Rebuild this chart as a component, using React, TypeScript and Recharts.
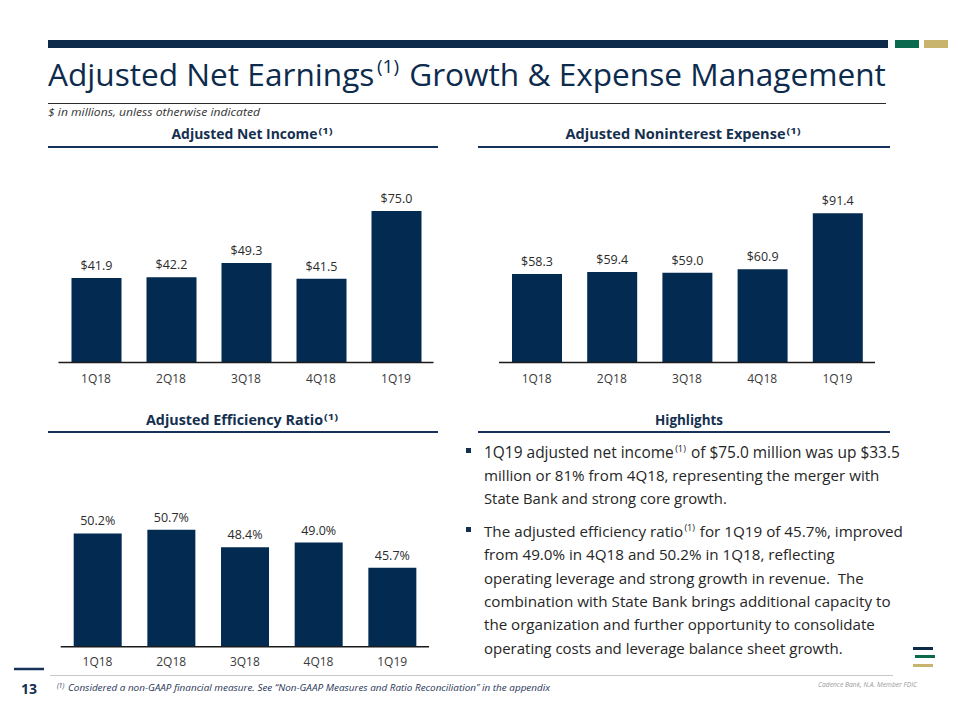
import React, { useLayoutEffect, useRef, useState } from 'react';
import { BarChart, Bar, XAxis, YAxis, LabelList } from 'recharts';

const categories = ['1Q18', '2Q18', '3Q18', '4Q18', '1Q19'];
const netIncome = [41.9, 42.2, 49.3, 41.5, 75.0];
const nonintExpense = [58.3, 59.4, 59.0, 60.9, 91.4];
const efficiencyRatio = [50.2, 50.7, 48.4, 49.0, 45.7];

const BAR = '#032b52';
const GREEN = '#0b6a4e';
const GOLD = '#c9b46e';
const FONT = "'Open Sans', 'Noto Sans', sans-serif";

const build = (vals: number[]) => categories.map((q, i) => ({ q, v: vals[i] }));

type ChartProps = {
  vals: number[];
  left: number;
  top: number;
  width: number;
  height: number;
  margin: { top: number; right: number; bottom: number; left: number };
  domain: [number, number];
  barSize: number;
  fmt: (v: number) => string;
  tickMargin: number;
};

function QChart(p: ChartProps) {
  return (
    <div style={{ position: 'absolute', left: p.left, top: p.top, width: p.width, height: p.height }}>
      <BarChart width={p.width} height={p.height} data={build(p.vals)} margin={p.margin}>
        <XAxis
          dataKey="q"
          height={30}
          axisLine={{ stroke: '#1b1b1b', strokeWidth: 1.5 }}
          tickLine={false}
          tickSize={6}
          tickMargin={p.tickMargin}
          tick={{ fill: '#3a3a3a', fontSize: 12, fontFamily: FONT }}
          interval={0}
        />
        <YAxis hide type="number" domain={p.domain} allowDataOverflow />
        <Bar dataKey="v" fill={BAR} barSize={p.barSize} isAnimationActive={false}>
          <LabelList
            dataKey="v"
            position="top"
            offset={8}
            formatter={(v: any) => p.fmt(Number(v))}
            style={{ fill: '#2b2b2b', fontSize: 12.5, fontFamily: FONT }}
          />
        </Bar>
      </BarChart>
    </div>
  );
}

type Seg = { t: string; sup?: boolean };

// Lays out a line of text segments (with superscripts) so its natural width fills `target`.
function FitLine({ x, y, segs, fontSize, target, fill }: { x: number; y: number; segs: Seg[]; fontSize: number; target: number; fill: string }) {
  const refs = useRef<(SVGTextElement | null)[]>([]);
  const [lay, setLay] = useState<{ fs: number; xs: number[] } | null>(null);
  const supR = 0.6;
  const gapAfter = (i: number) => {
    if (i === segs.length - 1) return 0;
    if (segs[i + 1].sup) return 0.08;
    if (segs[i].sup) return 0.32;
    return 0.26;
  };
  useLayoutEffect(() => {
    const ws = refs.current.map((r) => (r ? r.getComputedTextLength() : 0));
    let total = 0;
    ws.forEach((w, i) => {
      total += w + gapAfter(i) * fontSize;
    });
    const s = total > 0 ? target / total : 1;
    const xs: number[] = [];
    let cx = x;
    ws.forEach((w, i) => {
      xs.push(cx);
      cx += (w + gapAfter(i) * fontSize) * s;
    });
    setLay({ fs: fontSize * s, xs });
  }, []);
  const fs = lay ? lay.fs : fontSize;
  return (
    <g>
      {segs.map((sg, i) => (
        <text
          key={i}
          ref={(el) => {
            refs.current[i] = el;
          }}
          x={lay ? lay.xs[i] : x}
          y={sg.sup ? y - fs * 0.42 : y}
          fontSize={sg.sup ? fs * supR : fs}
          fill={fill}
          fontFamily={FONT}
          style={{ visibility: lay ? 'visible' : 'hidden' }}
        >
          {sg.t}
        </text>
      ))}
    </g>
  );
}

type Line = { segs: Seg[]; y: number; w: number };

const lines: Line[] = [
  { y: 458, w: 416, segs: [{ t: '1Q19 adjusted net income' }, { t: '(1)', sup: true }, { t: 'of $75.0 million was up $33.5' }] },
  { y: 481, w: 396, segs: [{ t: 'million or 81% from 4Q18, representing the merger with' }] },
  { y: 504, w: 243, segs: [{ t: 'State Bank and strong core growth.' }] },
  { y: 537, w: 419, segs: [{ t: 'The adjusted efficiency ratio' }, { t: '(1)', sup: true }, { t: 'for 1Q19 of 45.7%, improved' }] },
  { y: 560, w: 351, segs: [{ t: 'from 49.0% in 4Q18 and 50.2% in 1Q18, reflecting' }] },
  { y: 583.5, w: 380, segs: [{ t: 'operating leverage and strong growth in revenue.\u00A0\u00A0The' }] },
  { y: 607, w: 407, segs: [{ t: 'combination with State Bank brings additional capacity to' }] },
  { y: 630, w: 391, segs: [{ t: 'the organization and further opportunity to consolidate' }] },
  { y: 653.5, w: 359, segs: [{ t: 'operating costs and leverage balance sheet growth.' }] },
];

function Header({ cx, y, w, lineX1, lineX2, lineY, label }: { cx: number; y: number; w: number; lineX1: number; lineX2: number; lineY: number; label: string }) {
  const x0 = cx - w / 2;
  const mainW = w - 15;
  return (
    <g>
      <text x={x0} y={y} fontSize={14} fontWeight={700} fill="#15304f" fontFamily={FONT} textLength={mainW} lengthAdjust="spacingAndGlyphs">
        {label}
      </text>
      <text x={x0 + mainW + 1} y={y - 5.5} fontSize={9.5} fontWeight={700} fill="#15304f" fontFamily={FONT} textLength={14} lengthAdjust="spacingAndGlyphs">
        (1)
      </text>
      <line x1={lineX1} x2={lineX2} y1={lineY} y2={lineY} stroke="#17325a" strokeWidth={2} />
    </g>
  );
}

export default function App() {
  return (
    <div style={{ position: 'absolute', left: 0, top: 0, width: 960, height: 720, background: '#ffffff', overflow: 'hidden' }}>
      <svg width={960} height={720} style={{ position: 'absolute', left: 0, top: 0 }}>
        {/* top band */}
        <rect x={48} y={40} width={840} height={8} fill="#0d2a4a" />
        <rect x={895} y={40} width={24} height={8} fill={GREEN} />
        <rect x={924} y={40} width={24} height={8} fill={GOLD} />
        {/* title */}
        <FitLine
          x={48}
          y={86}
          fontSize={33}
          target={838}
          fill="#0d2b4d"
          segs={[{ t: 'Adjusted Net Earnings' }, { t: '(1)', sup: true }, { t: 'Growth & Expense Management' }]}
        />
        <line x1={48} x2={886} y1={103.5} y2={103.5} stroke="#2a2a2a" strokeWidth={1} />
        <text x={48} y={116} fontSize={11} fontStyle="italic" fill="#333" fontFamily={FONT} textLength={212} lengthAdjust="spacingAndGlyphs">
          $ in millions, unless otherwise indicated
        </text>

        <Header cx={252} y={139} w={161} lineX1={48} lineX2={438} lineY={147} label="Adjusted Net Income" />
        <Header cx={683} y={139} w={235} lineX1={478} lineX2={890} lineY={147} label="Adjusted Noninterest Expense" />
        <Header cx={242} y={425} w={192} lineX1={48} lineX2={438} lineY={432} label="Adjusted Efficiency Ratio" />
        <g>
          <text x={655} y={425} fontSize={14} fontWeight={700} fill="#15304f" fontFamily={FONT} textLength={68} lengthAdjust="spacingAndGlyphs">
            Highlights
          </text>
          <line x1={478} x2={890} y1={432} y2={432} stroke="#17325a" strokeWidth={2} />
        </g>

        {/* highlights bullets */}
        <rect x={466} y={448} width={5} height={5} fill="#15304f" />
        <rect x={466} y={527} width={5} height={5} fill="#15304f" />
        {lines.map((l, i) => (
          <FitLine key={i} x={484} y={l.y} fontSize={15.5} target={l.w} fill="#262626" segs={l.segs} />
        ))}

        {/* logo */}
        <rect x={913} y={647} width={20} height={3} fill="#0d2a4a" />
        <rect x={915} y={655} width={20} height={3} fill={GREEN} />
        <rect x={913} y={664} width={20} height={3} fill={GOLD} />

        {/* footer */}
        <line x1={14} x2={44} y1={669} y2={669} stroke="#17325a" strokeWidth={2.5} />
        <line x1={50} x2={893} y1={675.5} y2={675.5} stroke="#c8c8c8" strokeWidth={1} />
        <text x={21} y={694} fontSize={14} fontWeight={700} fill="#15304f" fontFamily={FONT}>13</text>
        <text x={57} y={687.5} fontSize={6.5} fontStyle="italic" fill="#1f3557" fontFamily={FONT}>
          (1)
        </text>
        <text x={68} y={691} fontSize={9.5} fontStyle="italic" fill="#1f3557" fontFamily={FONT} textLength={482} lengthAdjust="spacingAndGlyphs">
          Considered a non-GAAP financial measure. See “Non-GAAP Measures and Ratio Reconciliation” in the appendix
        </text>
        <text x={818} y={687} fontSize={7} fontStyle="italic" fill="#9a9a9a" fontFamily={FONT} textLength={99} lengthAdjust="spacingAndGlyphs">
          Cadence Bank, N.A. Member FDIC
        </text>
      </svg>

      <QChart
        vals={netIncome}
        left={40}
        top={180}
        width={410}
        height={220}
        margin={{ top: 21, right: 16.5, bottom: 7.5, left: 18.5 }}
        domain={[0, 80]}
        barSize={50}
        fmt={(v) => `$${v.toFixed(1)}`}
        tickMargin={6}
      />
      <QChart
        vals={nonintExpense}
        left={480}
        top={180}
        width={410}
        height={220}
        margin={{ top: 17.5, right: 15, bottom: 7.5, left: 19 }}
        domain={[10, 100]}
        barSize={50}
        fmt={(v) => `$${v.toFixed(1)}`}
        tickMargin={6}
      />
      <QChart
        vals={efficiencyRatio}
        left={40}
        top={470}
        width={410}
        height={215}
        margin={{ top: 27, right: 21, bottom: 8.3, left: 20.7 }}
        domain={[35.3, 55]}
        barSize={48}
        fmt={(v) => `${v.toFixed(1)}%`}
        tickMargin={5}
      />
    </div>
  );
}
